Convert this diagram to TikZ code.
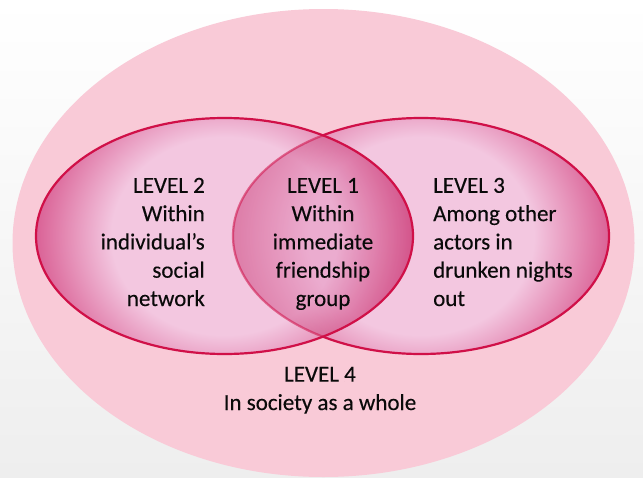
\documentclass[tikz,border=0pt]{standalone}
\usepackage{fontspec}
\setmainfont{Carlito}
\newfontfamily\lblfont[FakeBold=0.3]{Carlito}
\definecolor{outerpink}{RGB}{249,202,215}
\definecolor{vlight}{RGB}{243,199,224}
\definecolor{vdark}{RGB}{218,98,150}
\definecolor{rim}{RGB}{208,16,72}
\definecolor{txt}{RGB}{10,10,10}
\definecolor{bgg}{RGB}{238,238,238}
% light centre that deepens towards the rim of each set
% (the square -25bp..25bp is what gets fitted to the path)
\pgfdeclareradialshading{vennfill}{\pgfpoint{0bp}{0bp}}{%
  color(0bp)=(vlight); color(15bp)=(vlight); color(25bp)=(vdark); color(50bp)=(vdark)}
\begin{document}
\begin{tikzpicture}[x=1pt,y=-1pt,
  lbl/.style={font=\lblfont\fontsize{23}{28.3}\selectfont, text=txt, inner sep=0pt, anchor=base},
  ring/.style={draw=rim, line width=2.2pt},
  setshade/.style={shading=vennfill}]
\def\lset{(224.5,236) ellipse [x radius=188.5, y radius=118]}
\def\rset{(421,236) ellipse [x radius=188, y radius=118]}
% shading field: stretched vertically so the rim darkens mostly at the sides
\def\lfield{(224.5,236) ellipse [x radius=188.5, y radius=165]}
\def\rfield{(421,236) ellipse [x radius=188, y radius=165]}
\useasboundingbox (0,0) rectangle (643,477);
% page background
\shade[top color=white, bottom color=bgg] (0,0) rectangle (643,477);
% level 4: society
\fill[outerpink] (323.5,243) ellipse [x radius=311, y radius=234];
% level 3 set
\begin{scope}
  \clip \rset;
  \shade[setshade] \rfield;
\end{scope}
\draw[ring] \rset;
% level 2 set
\begin{scope}
  \clip \lset;
  \shade[setshade] \lfield;
\end{scope}
% overlap (level 1): the right set shows through
\begin{scope}
  \clip \lset;
  \clip \rset;
  \shade[setshade, blend mode=multiply, fill opacity=0.6] \rfield;
\end{scope}
\begin{scope}
  \clip \lset;
  \draw[ring, draw opacity=0.55] \rset;
\end{scope}
\draw[ring] \lset;
% labels (anchored on the baseline of the last line)
\node[lbl, align=right, anchor=base east] (l2) at (205,306) {LEVEL 2\\Within\\individual’s\\social\\network};
\node[lbl, align=center] (l1) at (323,306) {LEVEL 1\\Within\\immediate\\friendship\\group};
\node[lbl, align=left, anchor=base west] (l3) at (433,306) {LEVEL 3\\Among other\\actors in\\drunken nights\\out};
\node[lbl, align=center] (l4) at (320,410) {LEVEL 4\\In society as a whole};
\end{tikzpicture}
\end{document}
